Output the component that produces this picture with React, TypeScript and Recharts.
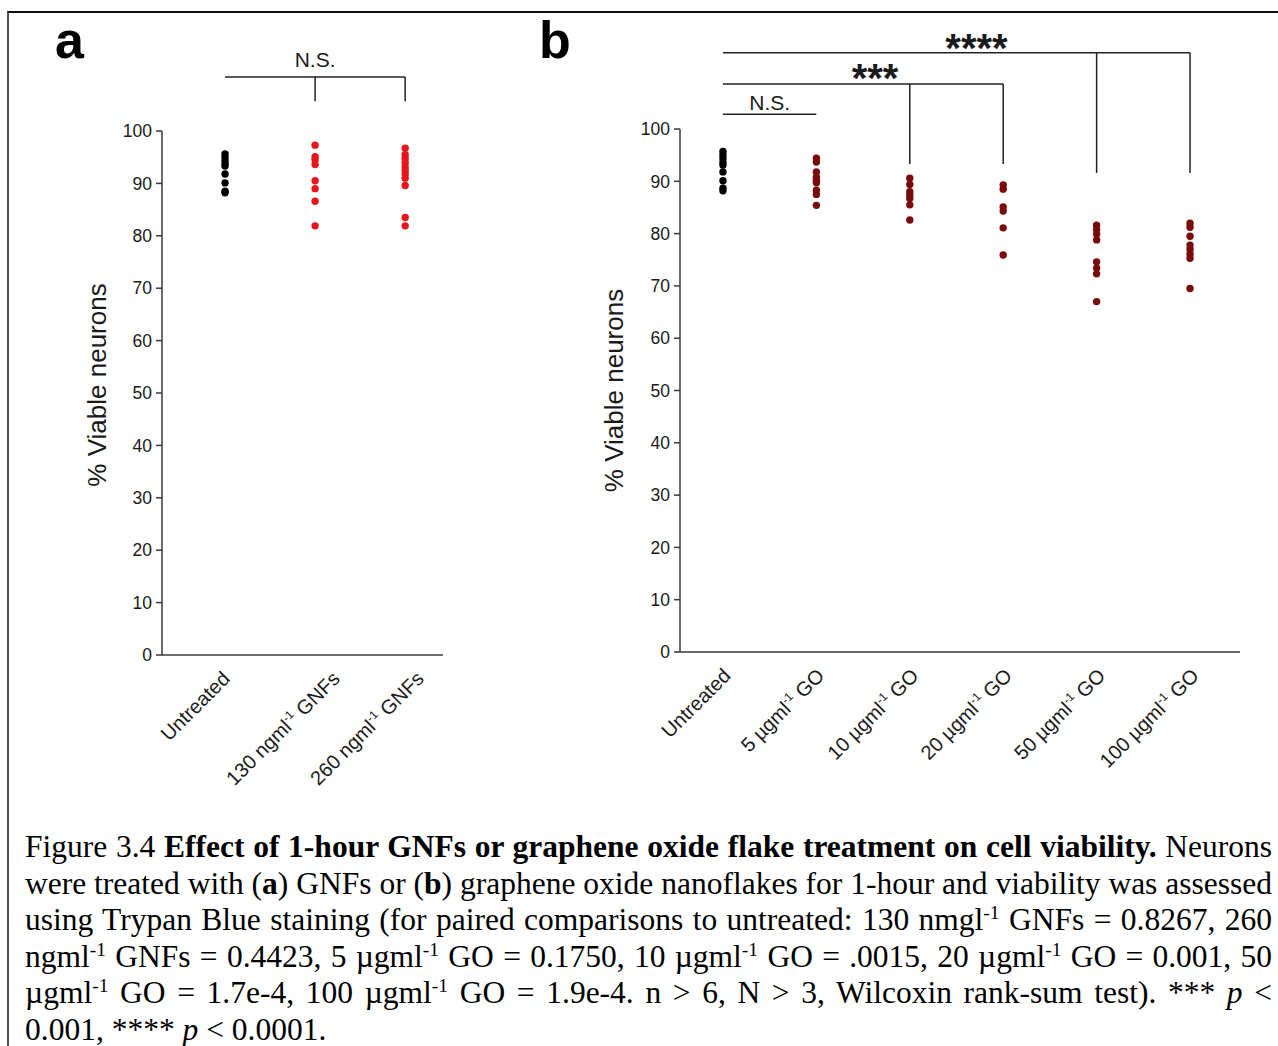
import React from "react";
import { ScatterChart, Scatter, XAxis, YAxis, ReferenceLine, Label } from "recharts";

// panel a: GNFs
const groupsA = ["Untreated", "130 ngml^-1 GNFs", "260 ngml^-1 GNFs"];
const untreatedA = [95.6, 95.0, 94.3, 93.7, 93.3, 91.8, 90.1, 88.5, 88.2];
const gnf130 = [97.3, 95.1, 94.5, 93.6, 90.5, 89.0, 86.6, 81.9];
const gnf260 = [96.7, 95.5, 94.8, 94.0, 93.2, 92.5, 91.8, 91.0, 89.6, 83.5, 81.9];

// panel b: graphene oxide
const groupsB = ["Untreated", "5 µgml^-1 GO", "10 µgml^-1 GO", "20 µgml^-1 GO", "50 µgml^-1 GO", "100 µgml^-1 GO"];
const untreatedB = [95.7, 95.0, 94.3, 93.6, 93.1, 91.8, 90.1, 88.7, 88.2];
const go5 = [94.4, 93.7, 91.8, 90.8, 90.1, 89.7, 88.3, 87.5, 85.4];
const go10 = [90.6, 89.4, 88.0, 87.4, 86.7, 85.5, 82.6];
const go20 = [89.3, 88.5, 85.1, 84.3, 81.1, 75.9];
const go50 = [81.6, 80.8, 79.9, 78.8, 74.6, 73.4, 72.3, 67.0];
const go100 = [82.0, 81.2, 79.5, 77.8, 77.0, 76.1, 75.3, 69.5];

const yTicks = [0, 10, 20, 30, 40, 50, 60, 70, 80, 90, 100];

const SANS = "'Liberation Sans', Arial, sans-serif";
const SERIF = "'Liberation Serif', 'Times New Roman', serif";
const AXIS = "#3a3a3a";
const INK = "#1a1a1a";
const RED = "#e8151b";
const DARK_RED = "#7a0b0b";

const toPoints = (vals: number[], i: number) => vals.map((v) => ({ x: i, y: v }));

const dot = (color: string) => (p: any) => <circle cx={p.cx} cy={p.cy} r={3.7} fill={color} />;

const CatTick = (props: any) => {
  const { x, y, payload, labels, shift } = props;
  const i = payload.value as number;
  const [pre, post] = String(labels[i]).split("^-1");
  return (
    <g transform={`translate(${x + shift[i]},${y + 17})`}>
      <text transform="rotate(-45)" textAnchor="end" fontSize={20} fill={INK} fontFamily={SANS}>
        {pre}
        {post !== undefined && (
          <>
            <tspan dy={-8} fontSize={12}>-1</tspan>
            <tspan dy={8}>{post}</tspan>
          </>
        )}
      </text>
    </g>
  );
};

const shiftA = [6, 26, 20];
const shiftB = [9, 9, 10, 10, 10, 10];

const yAxisProps = {
  type: "number" as const,
  domain: [0, 100],
  ticks: yTicks,
  width: 60,
  tickSize: 6,
  tickMargin: 4,
  stroke: AXIS,
  strokeWidth: 1.5,
  tick: { fontSize: 17.5, fill: INK, fontFamily: SANS },
  interval: 0 as const,
};

const bracket = { stroke: "#222", strokeWidth: 1.5, ifOverflow: "visible" as const };

const PanelA = () => (
  <ScatterChart width={460} height={800} margin={{ top: 131, right: 17, bottom: 45, left: 102 }}>
    <XAxis
      type="number"
      dataKey="x"
      domain={[-0.7, 2.42]}
      ticks={[0, 1, 2]}
      interval={0}
      height={100}
      tickLine={false}
      stroke={AXIS}
      strokeWidth={1.5}
      allowDataOverflow
      tick={<CatTick labels={groupsA} shift={shiftA} />}
    />
    <YAxis dataKey="y" {...yAxisProps}>
      <Label value="% Viable neurons" angle={-90} position="center" dx={-35} dy={-8} fontSize={26} fill={INK} fontFamily={SANS} />
    </YAxis>
    <Scatter data={toPoints(untreatedA, 0)} shape={dot("#000")} isAnimationActive={false} />
    <Scatter data={toPoints(gnf130, 1)} shape={dot(RED)} isAnimationActive={false} />
    <Scatter data={toPoints(gnf260, 2)} shape={dot(RED)} isAnimationActive={false} />
    <ReferenceLine
      segment={[{ x: 0, y: 110.3 }, { x: 2, y: 110.3 }]}
      {...bracket}
      label={{ value: "N.S.", position: "top", offset: 10, fontSize: 21, fill: INK, fontFamily: SANS }}
    />
    <ReferenceLine segment={[{ x: 1, y: 110.3 }, { x: 1, y: 105.7 }]} {...bracket} />
    <ReferenceLine segment={[{ x: 2, y: 110.3 }, { x: 2, y: 105.7 }]} {...bracket} />
  </ScatterChart>
);

const PanelB = () => (
  <ScatterChart width={758} height={800} margin={{ top: 129, right: 38, bottom: 48, left: 100 }}>
    <XAxis
      type="number"
      dataKey="x"
      domain={[-0.46, 5.535]}
      ticks={[0, 1, 2, 3, 4, 5]}
      interval={0}
      height={100}
      tickLine={false}
      stroke={AXIS}
      strokeWidth={1.5}
      allowDataOverflow
      tick={<CatTick labels={groupsB} shift={shiftB} />}
    />
    <YAxis dataKey="y" {...yAxisProps}>
      <Label value="% Viable neurons" angle={-90} position="center" dx={-36} fontSize={26} fill={INK} fontFamily={SANS} />
    </YAxis>
    <Scatter data={toPoints(untreatedB, 0)} shape={dot("#000")} isAnimationActive={false} />
    <Scatter data={toPoints(go5, 1)} shape={dot(DARK_RED)} isAnimationActive={false} />
    <Scatter data={toPoints(go10, 2)} shape={dot(DARK_RED)} isAnimationActive={false} />
    <Scatter data={toPoints(go20, 3)} shape={dot(DARK_RED)} isAnimationActive={false} />
    <Scatter data={toPoints(go50, 4)} shape={dot(DARK_RED)} isAnimationActive={false} />
    <Scatter data={toPoints(go100, 5)} shape={dot(DARK_RED)} isAnimationActive={false} />
    {/* N.S. */}
    <ReferenceLine
      segment={[{ x: 0, y: 102.8 }, { x: 1, y: 102.8 }]}
      {...bracket}
      label={{ value: "N.S.", position: "top", offset: 4, fontSize: 21, fill: INK, fontFamily: SANS }}
    />
    {/* *** */}
    <ReferenceLine
      segment={[{ x: 0, y: 108.6 }, { x: 3, y: 108.6 }]}
      {...bracket}
      label={{ value: "***", position: "top", offset: -8, dx: 12, fontSize: 40, fontWeight: 700, fill: INK, fontFamily: SANS }}
    />
    <ReferenceLine segment={[{ x: 2, y: 108.6 }, { x: 2, y: 93.3 }]} {...bracket} />
    <ReferenceLine segment={[{ x: 3, y: 108.6 }, { x: 3, y: 93.3 }]} {...bracket} />
    {/* **** */}
    <ReferenceLine
      segment={[{ x: 0, y: 114.6 }, { x: 5, y: 114.6 }]}
      {...bracket}
      label={{ value: "****", position: "top", offset: -9, dx: 20, fontSize: 40, fontWeight: 700, fill: INK, fontFamily: SANS }}
    />
    <ReferenceLine segment={[{ x: 4, y: 114.6 }, { x: 4, y: 91.6 }]} {...bracket} />
    <ReferenceLine segment={[{ x: 5, y: 114.6 }, { x: 5, y: 91.6 }]} {...bracket} />
  </ScatterChart>
);

const sup = (t: string) => (
  <span style={{ fontSize: "0.62em", verticalAlign: "0.55em", lineHeight: 0 }}>{t}</span>
);

const lineStyle = (last: boolean): React.CSSProperties => ({
  textAlign: "justify",
  textAlignLast: last ? "left" : "justify",
  whiteSpace: "nowrap",
  height: 36.6,
});

export default function App() {
  return (
    <div style={{ position: "absolute", left: 0, top: 0, width: 1278, height: 1046, background: "#fff", overflow: "hidden" }}>
      <div
        style={{
          position: "absolute",
          left: 7,
          top: 11,
          width: 1280,
          height: 1040,
          borderTop: "2px solid #111",
          borderLeft: "2px solid #555",
        }}
      />
      <div style={{ position: "absolute", left: 55, top: 14, fontFamily: SANS, fontWeight: 700, fontSize: 52, lineHeight: 1 }}>a</div>
      <div style={{ position: "absolute", left: 539, top: 14, fontFamily: SANS, fontWeight: 700, fontSize: 52, lineHeight: 1 }}>b</div>
      <div style={{ position: "absolute", left: 0, top: 0 }}>
        <PanelA />
      </div>
      <div style={{ position: "absolute", left: 520, top: 0 }}>
        <PanelB />
      </div>
      <div
        style={{
          position: "absolute",
          left: 25,
          top: 829,
          width: 1247,
          fontFamily: SERIF,
          fontSize: 31.5,
          lineHeight: "36.6px",
          color: "#000",
        }}
      >
        <div style={lineStyle(false)}>
          Figure 3.4 <b>Effect of 1-hour GNFs or graphene oxide flake treatment on cell viability.</b> Neurons
        </div>
        <div style={lineStyle(false)}>
          were treated with (<b>a</b>) GNFs or (<b>b</b>) graphene oxide nanoflakes for 1-hour and viability was assessed
        </div>
        <div style={lineStyle(false)}>
          using Trypan Blue staining (for paired comparisons to untreated: 130 nmgl{sup("-1")} GNFs = 0.8267, 260
        </div>
        <div style={lineStyle(false)}>
          ngml{sup("-1")} GNFs = 0.4423, 5 µgml{sup("-1")} GO = 0.1750, 10 µgml{sup("-1")} GO = .0015, 20 µgml{sup("-1")} GO = 0.001, 50
        </div>
        <div style={lineStyle(false)}>
          µgml{sup("-1")} GO = 1.7e-4, 100 µgml{sup("-1")} GO = 1.9e-4. n &gt; 6, N &gt; 3, Wilcoxin rank-sum test). *** <i>p</i> &lt;
        </div>
        <div style={lineStyle(true)}>
          0.001, **** <i>p</i> &lt; 0.0001.
        </div>
      </div>
    </div>
  );
}
